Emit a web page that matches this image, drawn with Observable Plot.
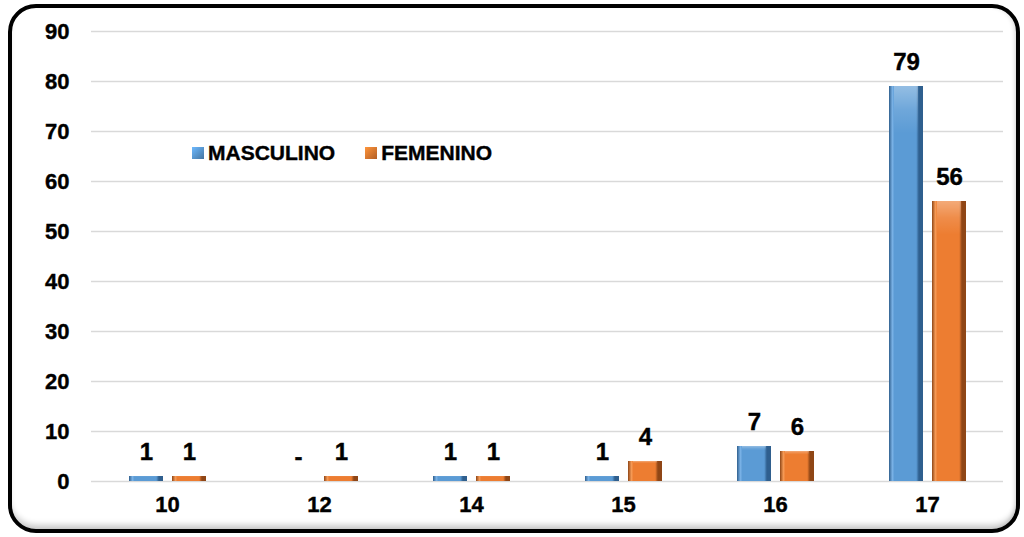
<!DOCTYPE html>
<html>
<head>
<meta charset="utf-8">
<script src="https://cdn.jsdelivr.net/npm/d3@7"></script>
<script src="https://cdn.jsdelivr.net/npm/@observablehq/plot@0.6"></script>
<style>
  html, body { margin: 0; padding: 0; background: #fff; }
  #wrap { position: relative; width: 1024px; height: 537px; overflow: hidden; font-family: "Liberation Sans", Arial, sans-serif; }
  #frame { position: absolute; left: 8px; top: 4px; right: 4px; bottom: 4px; border: 4px solid #000; border-radius: 28px;
           box-shadow: inset 0 -7px 6px -3px rgba(0,0,0,0.22), inset -4px 0 5px -3px rgba(0,0,0,0.15); pointer-events: none; }
  #chart { position: absolute; left: 0; top: 0; }
  #chart svg text { stroke: #000; stroke-width: 0.4px; }
  #chart svg g[aria-label*="axis"], #chart svg g[aria-label*="axis"] text { font-size: 22px !important; font-weight: bold !important; }
  #legend { position: absolute; left: 192px; top: 141px; display: flex; align-items: center; font-weight: bold; font-size: 21px; color: #000; -webkit-text-stroke: 0.4px #000; }
  .sw { display: inline-block; width: 12px; height: 12px; margin-right: 4px; }
  .item { display: flex; align-items: center; margin-right: 30px; }
</style>
</head>
<body>
<div id="wrap">
  <div id="chart"></div>
  <div id="legend"></div>
  <div id="frame"></div>
</div>
<script>
const categories = ["10", "12", "14", "15", "16", "17"];
const series = ["MASCULINO", "FEMENINO"];
const masculino = [1, 0, 1, 1, 7, 79];
const femenino = [1, 1, 1, 4, 6, 56];
const yTicks = [0, 10, 20, 30, 40, 50, 60, 70, 80, 90];
const baseColors = ["#5b9bd5", "#ed7d31"];

const data = categories.flatMap((c, i) => [
  {edad: c, sexo: series[0], v: masculino[i]},
  {edad: c, sexo: series[1], v: femenino[i]}
]);

const chart = Plot.plot({
  width: 1024,
  height: 537,
  marginLeft: 88,
  marginRight: 19,
  marginTop: 31,
  marginBottom: 56,
  style: {fontFamily: "'Liberation Sans', Arial, sans-serif", fontSize: "22px", fontWeight: "bold", color: "#000", background: "transparent"},
  fx: {domain: categories, padding: 0, label: null, axis: "bottom", tickSize: 0, tickPadding: 15},
  x: {domain: series, paddingInner: 0.22, paddingOuter: 0.85, axis: null},
  y: {domain: [0, 90], ticks: yTicks, label: null, tickSize: 0, tickPadding: 22},
  color: {domain: series, range: ["url(#gBlue)", "url(#gOrange)"]},
  marks: [
    Plot.ruleY(yTicks, {stroke: "#d9d9d9", strokeWidth: 1.5}),
    Plot.barY(data, {fx: "edad", x: "sexo", y: "v", fill: "sexo", style: "filter: drop-shadow(3px 2px 2px rgba(0,0,0,0.35))"}),
    Plot.barY(data, {fx: "edad", x: "sexo", y: "v", fill: "url(#gTop)", insetLeft: 5, insetRight: 5}),
    Plot.text(data, {fx: "edad", x: "sexo", y: "v", text: d => d.v === 0 ? "-" : String(d.v), dy: -24, fontSize: 24, fontWeight: "bold", fill: "#000"})
  ]
});

// gradients to imitate the bevelled bars
const svg = d3.select(chart);
const defs = svg.insert("defs", ":first-child");
function grad(id, light, base, dark) {
  const g = defs.append("linearGradient").attr("id", id).attr("x1", "0").attr("x2", "1").attr("y1", "0").attr("y2", "0");
  [[0, dark], [0.1, light], [0.16, base], [0.8, base], [0.88, dark], [1, dark]].forEach(([o, c]) =>
    g.append("stop").attr("offset", o).attr("stop-color", c));
}
grad("gBlue", "#7ab2e6", "#5b9bd5", "#2f5f8e");
grad("gOrange", "#f59a56", "#ed7d31", "#8f4616");
const gt = defs.append("linearGradient").attr("id", "gTop").attr("x1", "0").attr("x2", "0").attr("y1", "0").attr("y2", "1");
[[0, "rgba(255,255,255,0.35)"], [0.06, "rgba(255,255,255,0.12)"], [0.12, "rgba(255,255,255,0)"], [1, "rgba(255,255,255,0)"]].forEach(([o, c]) =>
  gt.append("stop").attr("offset", o).attr("stop-color", c));
document.getElementById("chart").appendChild(chart);

// legend
const legend = document.getElementById("legend");
series.forEach((s, i) => {
  const it = document.createElement("span");
  it.className = "item";
  const sw = document.createElement("span");
  sw.className = "sw";
  sw.style.background = `linear-gradient(135deg, ${d3.color(baseColors[i]).brighter(0.5)}, ${d3.color(baseColors[i]).darker(0.8)})`;
  const t = document.createElement("span");
  t.textContent = s;
  it.appendChild(sw);
  it.appendChild(t);
  legend.appendChild(it);
});
</script>
</body>
</html>
